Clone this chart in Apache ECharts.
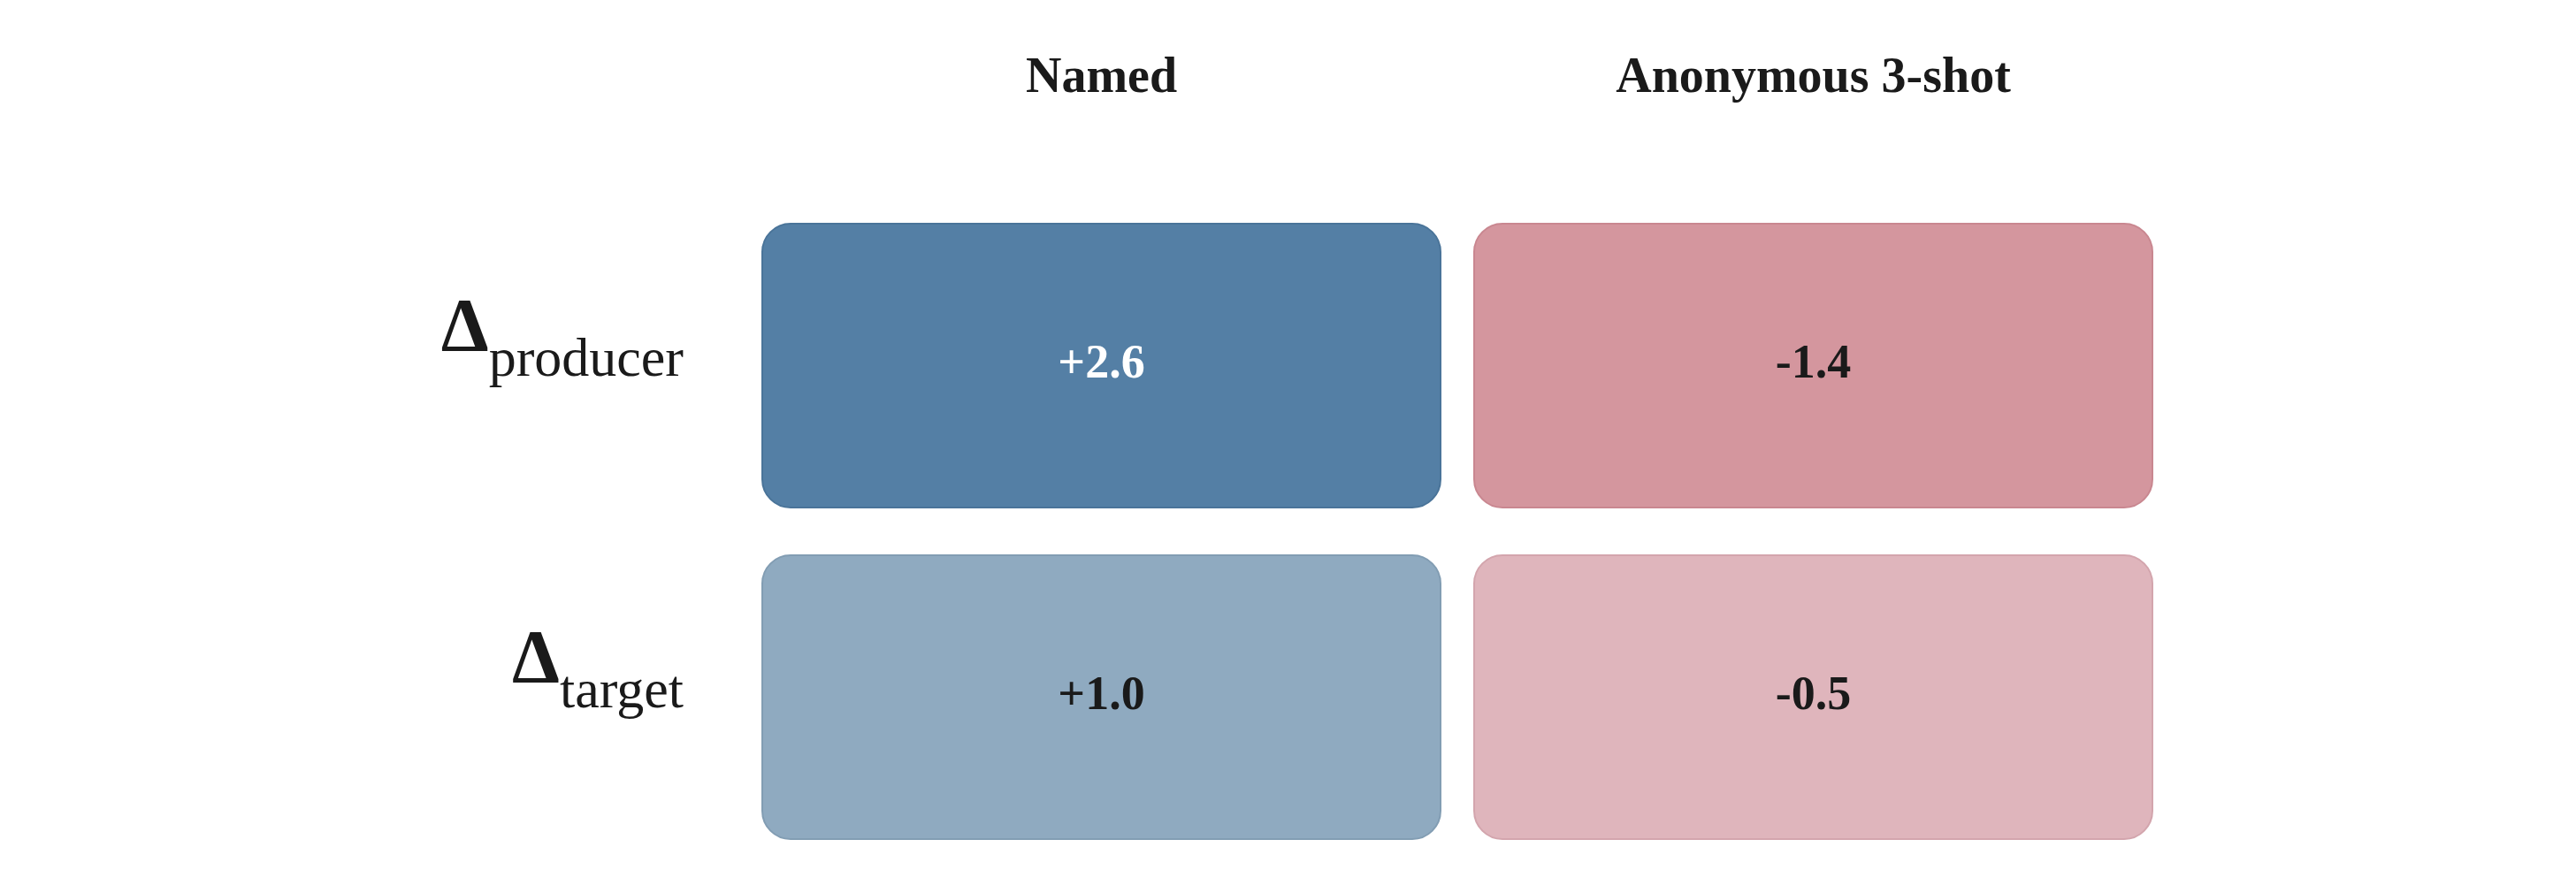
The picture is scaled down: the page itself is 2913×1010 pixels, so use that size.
<!DOCTYPE html>
<html><head><meta charset="utf-8">
<script src="https://cdn.jsdelivr.net/npm/echarts@6/dist/echarts.min.js"></script>
<style>html,body{margin:0;padding:0;background:#fff}#c{width:2913px;height:1010px}</style>
</head><body><div id="c"></div>
<script>
const columns = ['Named', 'Anonymous 3-shot'];
const rowKeys = ['producer', 'target'];
const rowNames = ['Δproducer', 'Δtarget'];
const valuesNamed = [2.6, 1.0];
const valuesAnon = [-1.4, -0.5];

const fills = {
  '0,0': '#547fa5', '0,1': '#8faac0', '1,0': '#d4969e', '1,1': '#dfb5bc'
};
const strokes = {
  '0,0': '#4a7499', '0,1': '#829db3', '1,0': '#c98790', '1,1': '#d3a5ad'
};

const data = [];
[valuesNamed, valuesAnon].forEach((arr, ci) => {
  arr.forEach((v, ri) => data.push([ci, ri, v]));
});

const chart = echarts.init(document.getElementById('c'));
const FONT = '"Liberation Serif", "DejaVu Serif", serif';
chart.setOption({
  backgroundColor: '#fff',
  animation: false,
  grid: { left: 843, width: 1610, top: 226, height: 750 },
  xAxis: {
    type: 'category', data: columns, position: 'top',
    axisLine: { show: false }, axisTick: { show: false }, splitLine: { show: false },
    axisLabel: { margin: 108, fontFamily: FONT, fontWeight: 'bold', fontSize: 56, color: '#1a1a1a' }
  },
  yAxis: {
    type: 'category', data: rowNames, inverse: true,
    axisLine: { show: false }, axisTick: { show: false }, splitLine: { show: false },
    axisLabel: {
      margin: 70,
      padding: [0, 0, 56, 0],
      formatter: function (val, idx) { return '{d|Δ}{s|' + rowKeys[idx] + '}'; },
      rich: {
        d: { fontFamily: FONT, fontSize: 86, fontWeight: 'bold', color: '#1a1a1a', verticalAlign: 'bottom', padding: [0, 0, 22, 0] },
        s: { fontFamily: FONT, fontSize: 62, color: '#1a1a1a', verticalAlign: 'bottom' }
      }
    }
  },
  series: [{
    type: 'custom',
    data: data,
    renderItem: function (params, api) {
      const ci = api.value(0), ri = api.value(1), v = api.value(2);
      const c = api.coord([ci, ri]);
      const sz = api.size([1, 1]);
      const w = sz[0] - 38, h = sz[1] - 54;
      const key = ci + ',' + ri;
      const txt = (v > 0 ? '+' : '') + v.toFixed(1);
      return {
        type: 'group',
        children: [{
          type: 'rect',
          shape: { x: c[0] - w / 2, y: c[1] - h / 2, width: w, height: h, r: 32 },
          style: { fill: fills[key], stroke: strokes[key], lineWidth: 2 }
        }, {
          type: 'text',
          style: {
            x: c[0], y: c[1], text: txt, align: 'center', verticalAlign: 'middle',
            fontFamily: FONT, fontWeight: 'bold', fontSize: 54,
            fill: (ci === 0 && ri === 0) ? '#ffffff' : '#1a1a1a'
          }
        }]
      };
    }
  }]
});
</script></body></html>
